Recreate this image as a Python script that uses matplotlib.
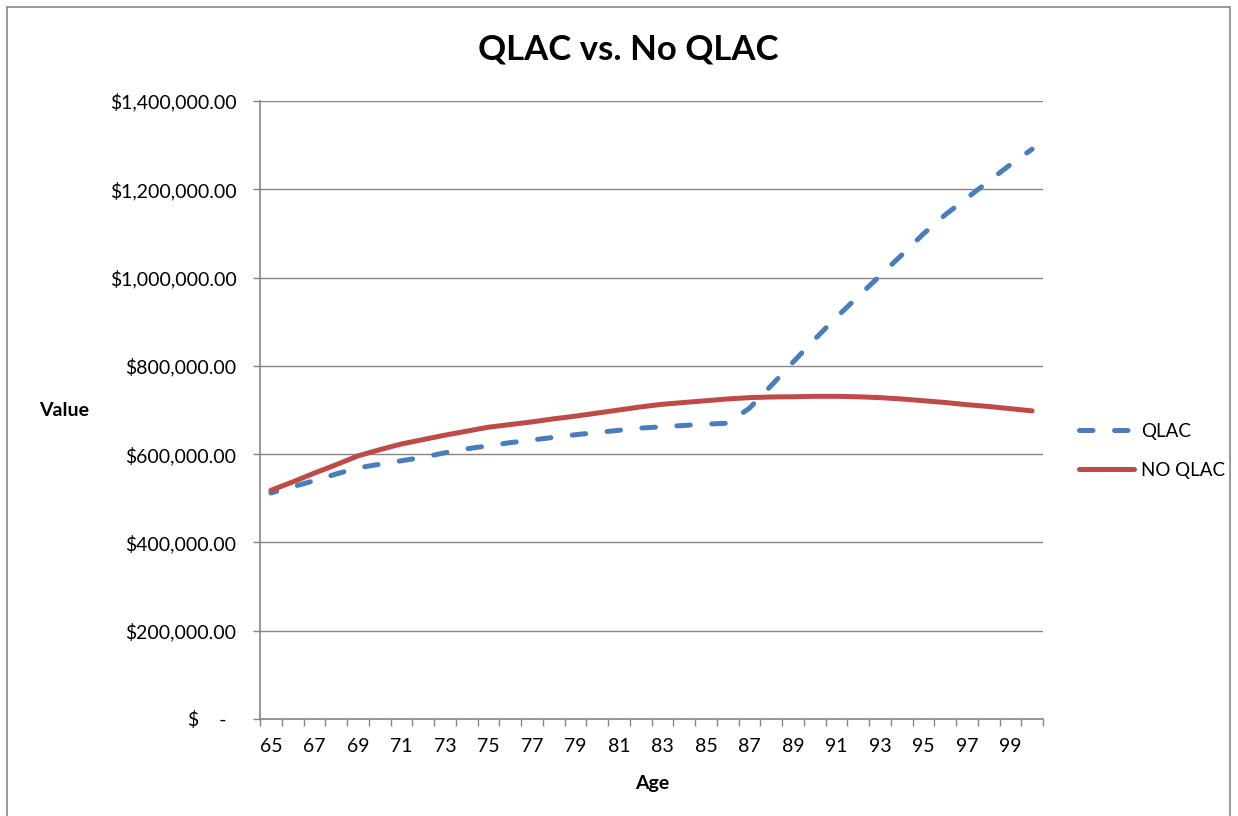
import matplotlib
matplotlib.use("Agg")
from matplotlib import pyplot as plt
from matplotlib.lines import Line2D
from matplotlib.patches import Rectangle
from matplotlib.ticker import FuncFormatter

plt.rcParams['font.family'] = ['Lato', 'DejaVu Sans']

ages = list(range(65, 101))
qlac = [512, 526, 540, 555, 569, 577, 585, 593, 603, 612, 619, 626, 632, 638,
        644, 649, 654, 659, 662, 665, 668, 670, 704, 755, 808, 860, 910, 957,
        1004, 1051, 1099, 1142, 1180, 1218, 1256, 1291]
no_qlac = [518, 537, 557, 576, 596, 610, 623, 633, 643, 652, 661, 667, 673, 680,
           686, 693, 700, 707, 713, 717, 721, 725, 728, 729.5, 730, 731, 731, 730,
           728, 725, 721, 717, 712, 708, 703, 698]
qlac = [v * 1000 for v in qlac]
no_qlac = [v * 1000 for v in no_qlac]

blue = '#4A7EBB'
red = '#BE4B48'
grey = '#868686'

fig = plt.figure(figsize=(12.38, 8.16), dpi=100)
ax = fig.add_axes([260 / 1238, 1 - 719 / 816, (1043 - 260) / 1238, (719 - 101) / 816])

# outer chart border
fig.patches.append(Rectangle((7 / 1238, -0.01), (1230 - 7) / 1238, 1.01 - 7 / 816,
                             transform=fig.transFigure, fill=False,
                             edgecolor=grey, linewidth=1.2))

ax.plot(ages, qlac, color=blue, lw=3.6, linestyle=(1.5, (2.7, 4.3)),
        dash_capstyle='round', solid_capstyle='round')
ax.plot(ages, no_qlac, color=red, lw=3.6, solid_capstyle='round',
        solid_joinstyle='round')

ax.set_xlim(64.5, 100.5)
ax.set_ylim(0, 1400000)

ax.set_xticks([a - 0.5 for a in ages] + [100.5])
ax.set_xticklabels([])
ax.set_xticks([a for a in ages if a % 2 == 1], minor=True)
ax.set_xticklabels([str(a) for a in ages if a % 2 == 1], minor=True)
ax.tick_params(axis='x', which='major', length=5, color=grey, width=1)
ax.tick_params(axis='x', which='minor', length=0, pad=14, labelsize=14)

ax.set_yticks(range(0, 1400001, 200000))


def money(v, pos):
    if v == 0:
        return '$    -  '
    return f'${v:,.2f}'


ax.yaxis.set_major_formatter(FuncFormatter(money))
ax.tick_params(axis='y', length=5, color=grey, width=1, labelsize=14, pad=12)

ax.grid(axis='y', color=grey, lw=1)
ax.set_axisbelow(True)
for s in ['top', 'right']:
    ax.spines[s].set_visible(False)
for s in ['left', 'bottom']:
    ax.spines[s].set_color(grey)
    ax.spines[s].set_linewidth(1.2)

fig.text(628 / 1238, 1 - 50 / 816, 'QLAC vs. No QLAC', ha='center', va='center',
         fontsize=25, fontweight='bold')
fig.text(64 / 1238, 1 - 411 / 816, 'Value', ha='center', va='center',
         fontsize=14, fontweight='bold')
fig.text(652 / 1238, 1 - 783 / 816, 'Age', ha='center', va='center',
         fontsize=14, fontweight='bold')

handles = [
    Line2D([], [], color=blue, lw=3.6, linestyle=(0, (2.7, 4.3)), dash_capstyle='round'),
    Line2D([], [], color=red, lw=3.6, solid_capstyle='round'),
]
ax.legend(handles, ['QLAC', 'NO QLAC'], loc='center left',
          bbox_to_anchor=(1.025, 0.434), frameon=False,
          fontsize=13.5, handlelength=2.9, labelspacing=1.15, handletextpad=0.4)

fig.savefig('out.png', dpi=100)
